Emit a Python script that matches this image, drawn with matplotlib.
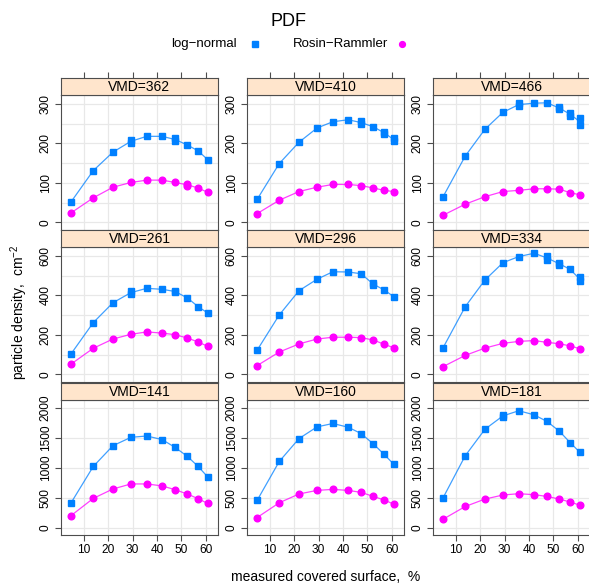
import numpy as np
import matplotlib
matplotlib.use("Agg")
import matplotlib.pyplot as plt
from matplotlib.lines import Line2D

plt.rcParams['font.family'] = ['Liberation Sans', 'DejaVu Sans']
plt.rcParams['mathtext.fontset'] = 'custom'
plt.rcParams['mathtext.rm'] = 'Liberation Sans'
plt.rcParams['mathtext.default'] = 'rm'

# covered surface, %
x = [4.7, 13.8, 21.9, 29.3, 35.8, 42.1, 47.4, 52.5, 56.9, 60.8]

# panel order: top row first (lattice draws bottom-up, image shows it this way)
vmd = [362, 410, 466, 261, 296, 334, 141, 160, 181]

# tuples = repeated measurements at the same surface value
ln_362 = [52, 131, 178, (202, 209), 218, 218, (205, 215), 196, 181, 159]
rr_362 = [24, 62, 89, 101, 107, 107, 101, (93, 97), 87, 76]
ln_410 = [58, 149, 203, 239, 255, 260, (250, 256), 242, (224, 230), (207, 213)]
rr_410 = [22, 56, 78, 89, 96, 96, 93, 87, 81, 78]
ln_466 = [65, 168, 236, 279, (295, 302), 302, 303, (287, 292), (270, 278), (246, 265)]
rr_466 = [18, 46, 65, 78, 81, 85, 85, 84, 75, 70]
ln_261 = [104, 262, 363, (407, 422), 436, 431, (415, 425), 387, 343, 311]
rr_261 = [52, 132, 179, 203, 215, 209, 201, 184, 164, 142]
ln_296 = [122, 301, 424, 482, 520, 519, 510, (451, 462), 428, 394]
rr_296 = [44, 113, 154, 179, 188, 188, 186, 174, 152, 135]
ln_334 = [135, 343, (472, 485), 566, 597, 614, (580, 600), (554, 566), 532, (475, 492)]
rr_334 = [39, 96, 133, 157, 167, 171, 162, 155, 144, 130]
ln_141 = [416, 1023, 1371, 1511, 1533, 1473, 1343, 1191, 1023, 849]
rr_141 = [202, 489, 647, 731, 731, 698, 635, 562, 484, 405]
ln_160 = [455, 1107, 1489, 1685, 1742, 1680, 1574, 1399, 1225, 1062]
rr_160 = [169, 416, 563, 623, 640, 623, 590, 522, 462, 394]
ln_181 = [500, 1203, 1646, (1850, 1890), 1955, 1887, 1776, 1612, 1422, 1264]
rr_181 = [141, 354, 478, 546, 568, 551, 522, 478, 428, 377]

lognormal = [ln_362, ln_410, ln_466, ln_261, ln_296, ln_334, ln_141, ln_160, ln_181]
rosin = [rr_362, rr_410, rr_466, rr_261, rr_296, rr_334, rr_141, rr_160, rr_181]

xticks = [10, 20, 30, 40, 50, 60]
row_yticks = [[0, 100, 200, 300], [0, 200, 400, 600], [0, 500, 1000, 1500, 2000]]
row_grid = [np.arange(0, 301, 50), np.arange(0, 601, 100), np.arange(0, 2001, 500)]
row_ylim = [(-19.5, 322.8), (-39, 645.6), (-123, 2135)]

BLUE = '#0080ff'
MAG = '#ff00ff'
STRIP = '#ffe5cc'
EDGE = '#4d4d4d'

W, H = 589, 583
fig = plt.figure(figsize=(W / 100, H / 100), dpi=100)


def rect(l, t, w, h):
    return [l / W, 1 - (t + h) / H, w / W, h / H]


def split(vals):
    px, py, lx, ly = [], [], [], []
    for xi, v in zip(x, vals):
        vs = v if isinstance(v, tuple) else (v,)
        for vv in vs:
            px.append(xi)
            py.append(vv)
        lx.append(xi)
        ly.append(np.mean(vs))
    return px, py, lx, ly


col_left = [61, 247, 433]
row_top = [95, 247, 400]
pw, ph, sh = 157, 135, 17

for i, v in enumerate(vmd):
    r, c = divmod(i, 3)
    ax = fig.add_axes(rect(col_left[c], row_top[r], pw, ph))
    ax.set_xlim(0.55, 65.05)
    ax.set_ylim(*row_ylim[r])
    for g in xticks:
        ax.axvline(g, color='#e8e8e8', lw=0.9, zorder=0)
    for g in row_grid[r]:
        ax.axhline(g, color='#e8e8e8', lw=0.9, zorder=0)

    for vals, col, mk in [(lognormal[i], BLUE, 's'), (rosin[i], MAG, 'o')]:
        px, py, lx, ly = split(vals)
        ax.plot(lx, ly, color=col, lw=0.9, alpha=0.75, zorder=2)
        ax.plot(px, py, ls='none', marker=mk, color=col, ms=4.8, mec=col, zorder=3)

    ax.set_xticks(xticks)
    ax.set_yticks(row_yticks[r])
    ax.tick_params(direction='out', length=4.3, width=0.8, color=EDGE,
                   labelsize=8.6, pad=2.5)
    plt.setp(ax.get_yticklabels(), rotation=90, va='center')
    if r < 2:
        ax.tick_params(axis='x', bottom=False, labelbottom=False)
    for sp in ax.spines.values():
        sp.set_color(EDGE)
        sp.set_linewidth(0.8)

    st = fig.add_axes(rect(col_left[c], row_top[r] - sh, pw, sh))
    st.set_facecolor(STRIP)
    st.set_xlim(0.55, 65.05)
    st.set_yticks([])
    if r == 0:
        st.set_xticks(xticks)
        st.tick_params(axis='x', top=True, bottom=False, labeltop=False,
                       labelbottom=False, direction='out', length=4.3,
                       width=0.8, color=EDGE)
    else:
        st.set_xticks([])
    for sp in st.spines.values():
        sp.set_color(EDGE)
        sp.set_linewidth(0.8)
    st.text(0.5, 0.45, f'VMD={v}', transform=st.transAxes, ha='center',
            va='center', fontsize=10)

fig.text(288 / W, 1 - 21.7 / H, 'PDF', ha='center', va='center', fontsize=13)
fig.text(237 / W, 1 - 44 / H, 'log\u2212normal', ha='right', va='center', fontsize=9.5)
fig.text(293 / W, 1 - 44 / H, 'Rosin\u2212Rammler', ha='left', va='center', fontsize=9.5)
fig.add_artist(Line2D([255 / W], [1 - 44 / H], transform=fig.transFigure,
                      marker='s', color=BLUE, ms=4.2, ls='none'))
fig.add_artist(Line2D([402 / W], [1 - 44 / H], transform=fig.transFigure,
                      marker='o', color=MAG, ms=4.2, ls='none'))

fig.text(19 / W, 1 - 312 / H, 'particle density,  cm$^{-2}$', rotation=90,
         ha='center', va='center', fontsize=10)
fig.text(326 / W, 1 - 577 / H, 'measured covered surface,  %', ha='center',
         va='center', fontsize=10)

fig.savefig('out.png', dpi=100)
